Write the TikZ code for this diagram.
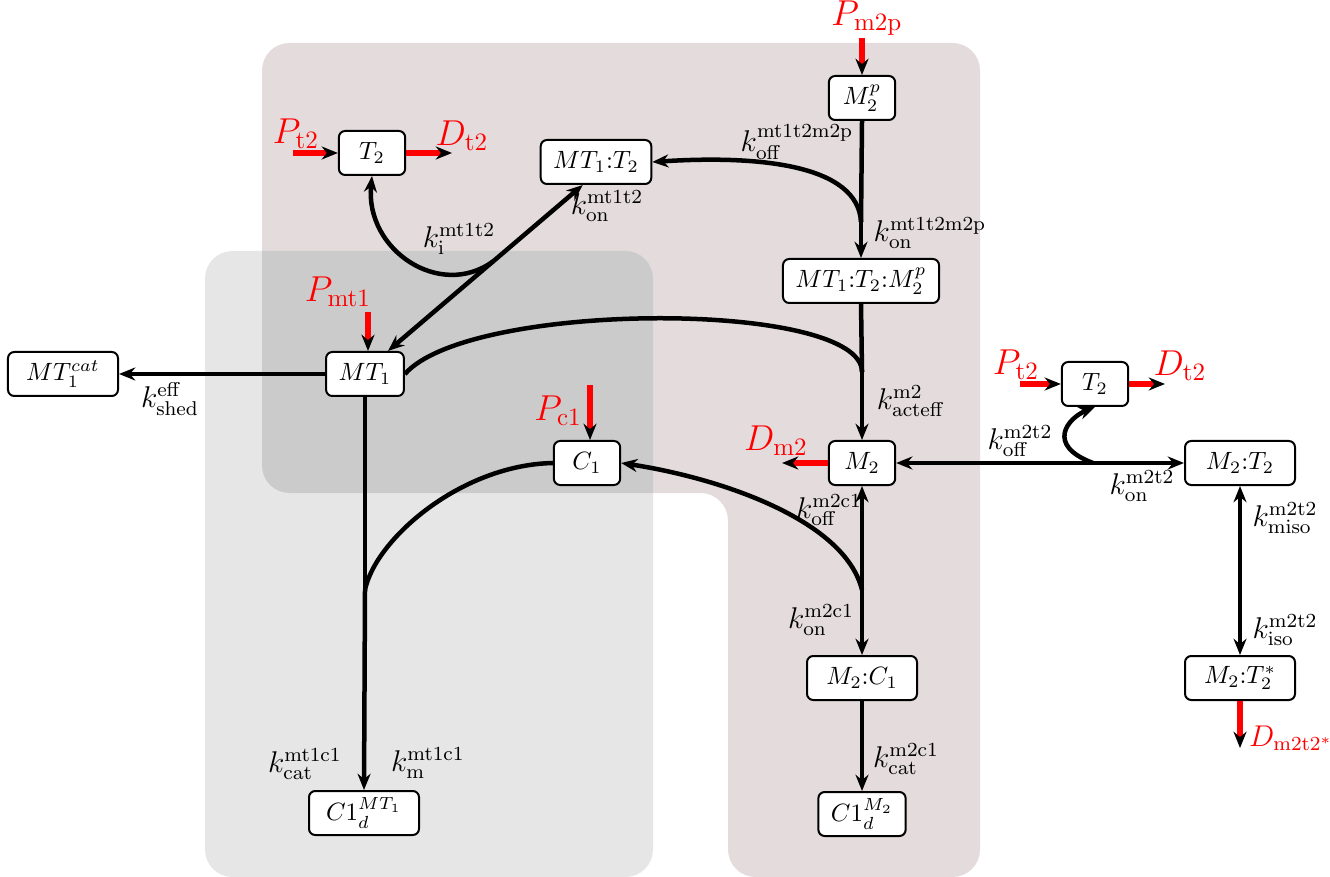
\documentclass[tikz,border=0pt]{standalone}
\usetikzlibrary{arrows.meta,calc}
\definecolor{mauvebg}{RGB}{227,219,220}
\definecolor{greybg}{RGB}{230,230,230}
\definecolor{bothbg}{RGB}{203,203,203}
\tikzset{
  >={Stealth[length=6.5pt,width=5.2pt]},
  species/.style={draw,line width=0.8pt,rounded corners=2.5pt,fill=white,
    minimum width=26.5pt,minimum height=17.6pt,inner xsep=5pt,inner ysep=0pt},
  widebox/.style={species,minimum width=44pt},
  rate/.style={font=\large},
  src/.style={font=\Large,text=red,inner sep=1pt},
  flux/.style={line width=1.8pt,->},
  bond/.style={line width=1.8pt},
  inflow/.style={line width=2.2pt,red,-{Stealth[black,length=6.5pt,width=5.2pt]}},
}
\newcommand{\mauvepath}{(500,43) -- (980,43) -- (980,877) -- (728,877) -- (728,493) -- (262,493) -- (262,43) -- cycle}
\begin{document}
\begin{tikzpicture}[x=0.4pt,y=-0.4pt]
\useasboundingbox (0,0) rectangle (1330,877);
% compartments
\fill[mauvebg,rounded corners=11pt] \mauvepath;
\fill[greybg,rounded corners=11pt] (205,251) rectangle (653,877);
\begin{scope}
  \clip[rounded corners=11pt] \mauvepath;
  \fill[bothbg,rounded corners=11pt] (205,251) rectangle (653,877);
\end{scope}

% species
\node[species] (M2p) at (862,98) {$M_2^p$};
\node[species] (MT1T2) at (596,162) {$MT_1{:}T_2$};
\node[species] (T2a) at (372,153) {$T_2$};
\node[species] (MT1T2M2p) at (861,281) {$MT_1{:}T_2{:}M_2^p$};
\node[species] (MT1) at (365,374) {$MT_1$};
\node[widebox] (MT1cat) at (63,374) {$MT_1^{cat}$};
\node[species] (C1) at (587,463) {$C_1$};
\node[species] (M2) at (862,463) {$M_2$};
\node[species] (T2b) at (1095,384) {$T_2$};
\node[widebox] (M2T2) at (1240,463) {$M_2{:}T_2$};
\node[widebox] (M2T2s) at (1240,678) {$M_2{:}T_2^*$};
\node[widebox] (M2C1) at (862,678) {$M_2{:}C_1$};
\node[species] (C1dM2) at (862,814) {$C1_d^{M_2}$};
\node[widebox] (C1dMT1) at (364,813) {$C1_d^{MT_1}$};

% MT1:T2 + M2p
\coordinate (jA) at (861,222);
\draw[bond] (M2p.south) -- (jA);
\draw[flux] (jA) -- (MT1T2M2p.north);
\draw[flux] (jA) .. controls (858,165) and (760,155) .. (MT1T2.east);
\node[rate] (koffA) at (797,142) {$k_{\mathrm{off}}^{\mathrm{mt1t2m2p}}$};
\node[rate] (konA) at (930,233) {$k_{\mathrm{on}}^{\mathrm{mt1t2m2p}}$};

% activation of M2
\coordinate (jB) at (862,372);
\draw[bond] (MT1T2M2p.south) -- (jB);
\draw[bond] (MT1.east) .. controls (470,300) and (862,300) .. (jB);
\draw[flux] (jB) -- (M2.north);
\node[rate] (kact) at (911,401) {$k_{\mathrm{acteff}}^{\mathrm{m2}}$};

% MT1 + T2
\coordinate (jC) at ($(MT1T2.-120)!0.46!(MT1.45)$);
\draw[flux] (jC) -- (MT1T2.-120);
\draw[flux] (jC) -- (MT1.45);
\draw[flux] (jC) .. controls (440,300) and (365,250) .. (T2a.south);
\node[rate] (konB) at (607,206) {$k_{\mathrm{on}}^{\mathrm{mt1t2}}$};
\node[rate] (kiB) at (459,239) {$k_{\mathrm{i}}^{\mathrm{mt1t2}}$};

% shedding
\draw[flux] (MT1.west) -- (MT1cat.east);
\node[rate] (kshed) at (170,399) {$k_{\mathrm{shed}}^{\mathrm{eff}}$};

% C1 degraded by MT1
\coordinate (jD) at (365,590);
\draw[bond] (MT1.south) -- (jD);
\draw[bond] (C1.west) .. controls (460,465) and (375,540) .. (jD);
\draw[flux] (jD) -- (C1dMT1.north);
\node[rate] (kcatD) at (305,764) {$k_{\mathrm{cat}}^{\mathrm{mt1c1}}$};
\node[rate] (kmD) at (428,763) {$k_{\mathrm{m}}^{\mathrm{mt1c1}}$};

% M2 + C1
\coordinate (jE) at (862,590);
\draw[flux] (jE) -- (M2.south);
\draw[flux] (jE) -- (M2C1.north);
\draw[flux] (jE) .. controls (845,520) and (720,478) .. (C1.east);
\draw[flux] (M2C1.south) -- (C1dM2.north);
\node[rate] (koffE) at (829,510) {$k_{\mathrm{off}}^{\mathrm{m2c1}}$};
\node[rate] (konE) at (821,620) {$k_{\mathrm{on}}^{\mathrm{m2c1}}$};
\node[rate] (kcatE) at (906,759) {$k_{\mathrm{cat}}^{\mathrm{m2c1}}$};

% M2 + T2
\coordinate (jF) at (1093,463);
\draw[flux] (jF) -- (M2.east);
\draw[flux] (jF) -- (M2T2.west);
\draw[flux] (jF) .. controls (1045,445) and (1068,418) .. (T2b.south);
\draw[<->,line width=1.8pt] (M2T2.south) -- (M2T2s.north);
\node[rate] (koffF) at (1020,441) {$k_{\mathrm{off}}^{\mathrm{m2t2}}$};
\node[rate] (konF) at (1142,486) {$k_{\mathrm{on}}^{\mathrm{m2t2}}$};
\node[rate] (kmiso) at (1285,518) {$k_{\mathrm{miso}}^{\mathrm{m2t2}}$};
\node[rate] (kiso) at (1285,630) {$k_{\mathrm{iso}}^{\mathrm{m2t2}}$};

% production and degradation
\node[src] (Pm2p) at (867,18) {$P_{\mathrm{m2p}}$};
\coordinate (m2pin) at (862,38);
\draw[inflow] (m2pin) -- (M2p.north);
\node[src] (Pt2a) at (296,134) {$P_{\mathrm{t2}}$};
\coordinate (t2ain) at (293,153);
\draw[inflow] (t2ain) -- (T2a.west);
\node[src] (Dt2a) at (462,136) {$D_{\mathrm{t2}}$};
\coordinate (t2aout) at (452,153);
\draw[inflow] (T2a.east) -- (t2aout);
\node[src] (Pmt1) at (338,292) {$P_{\mathrm{mt1}}$};
\coordinate (mt1in) at (368,312);
\draw[inflow] (mt1in) -- (mt1in |- MT1.north);
\node[src,anchor=east] (Pc1) at (585,411) {$P_{\mathrm{c1}}$};
\coordinate (c1in) at (590,385);
\draw[inflow] (c1in) -- (c1in |- C1.north);
\node[src] (Dm2) at (776,441) {$D_{\mathrm{m2}}$};
\coordinate (m2out) at (782,463);
\draw[inflow] (M2.west) -- (m2out);
\node[src] (Pt2b) at (1016,365) {$P_{\mathrm{t2}}$};
\coordinate (t2bin) at (1020,384);
\draw[inflow] (t2bin) -- (T2b.west);
\node[src] (Dt2b) at (1180,366) {$D_{\mathrm{t2}}$};
\coordinate (t2bout) at (1165,384);
\draw[inflow] (T2b.east) -- (t2bout);
\node[src,font=\large,anchor=west] (Dm2t2s) at (1246,738) {$D_{\mathrm{m2t2^*}}$};
\coordinate (m2t2sout) at (1240,748);
\draw[inflow] (M2T2s.south) -- (m2t2sout);
\end{tikzpicture}
\end{document}
